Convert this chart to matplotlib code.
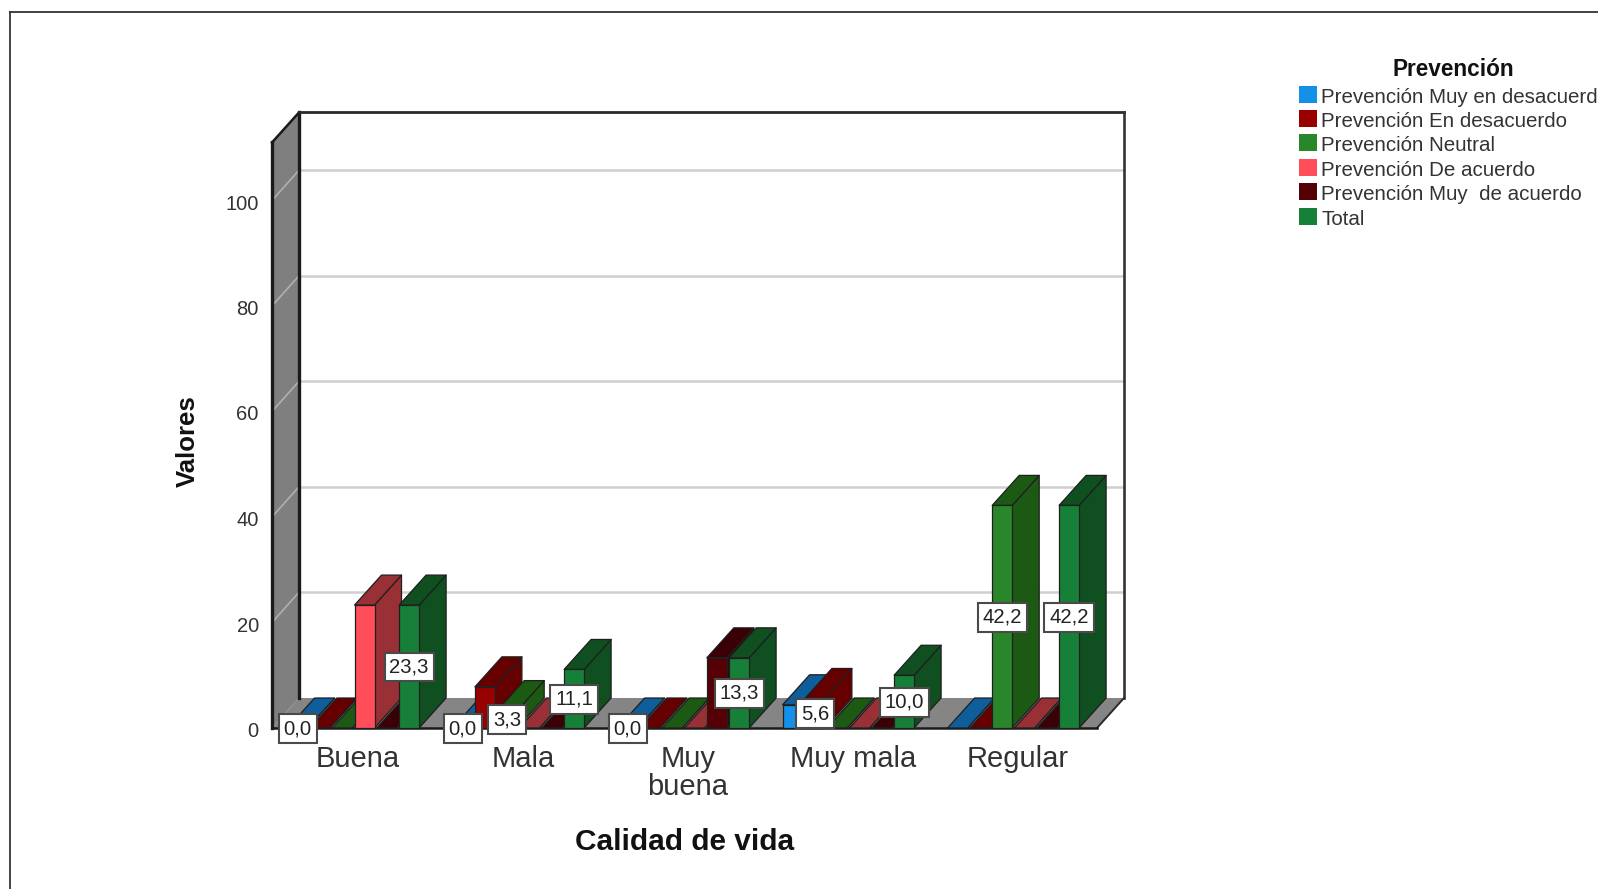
import matplotlib
matplotlib.use("Agg")
import matplotlib.pyplot as plt
from matplotlib.patches import Polygon, Rectangle
from matplotlib.lines import Line2D
from matplotlib.transforms import ScaledTranslation

categories = ["Buena", "Mala", "Muy\nbuena", "Muy mala", "Regular"]
series_names = ["Prevención Muy en desacuerdo", "Prevención En desacuerdo", "Prevención Neutral",
                "Prevención De acuerdo", "Prevención Muy  de acuerdo", "Total"]
muy_desacuerdo = [0.0, 0.0, 0.0, 4.4, 0.0]
desacuerdo = [0.0, 7.8, 0.0, 5.6, 0.0]
neutral = [0.0, 3.3, 0.0, 0.0, 42.2]
de_acuerdo = [23.3, 0.0, 0.0, 0.0, 0.0]
muy_de_acuerdo = [0.0, 0.0, 13.3, 0.0, 0.0]
total = [23.3, 11.1, 13.3, 10.0, 42.2]
series = [muy_desacuerdo, desacuerdo, neutral, de_acuerdo, muy_de_acuerdo, total]

front_colors = ["#1490E8", "#990000", "#2A862A", "#FF4D5A", "#550005", "#178038"]
shade_colors = ["#0D5E9A", "#660000", "#1C5A14", "#993035", "#3A0005", "#0F4F20"]

# (category, series) pairs that keep a value label, the rest are hidden by overlap
labelled = [(0, 0), (0, 5), (1, 0), (1, 2), (1, 5), (2, 0), (2, 5), (3, 1), (3, 5), (4, 2), (4, 5)]

W, H = 1598, 889
DPI = 100
plt.rcParams["font.family"] = ["Liberation Sans", "DejaVu Sans"]

fig = plt.figure(figsize=(W / DPI, H / DPI), dpi=DPI)
# plot area of the front plane, in pixels
left, right, y0, y100 = 272, 1097, 728, 200.5
ax = fig.add_axes([left / W, 1 - y0 / H, (right - left) / W, (y0 - y100) / H])
ax.set_xlim(0, len(categories))
ax.set_ylim(0, 100)
ax.patch.set_visible(False)
for s in ax.spines.values():
    s.set_visible(False)

# depth of the 3d box in data units
dx = 27 / 165
dy = 30 / 5.275
wall_top = 111.0
grid_lift = 0.05
slot = 22.3 / 165
bar_w = 20 / 165
EDGE = "#1f1f1f"


def poly(pts, fc, ec=EDGE, lw=0.9, z=2):
    ax.add_patch(Polygon(pts, closed=True, facecolor=fc, edgecolor=ec, linewidth=lw, zorder=z,
                         clip_on=False, joinstyle="round"))


def line(xs, ys, color, lw, z=1.5):
    ax.add_line(Line2D(xs, ys, color=color, linewidth=lw, zorder=z, clip_on=False))


# left wall and floor
n = len(categories)
poly([(0, 0), (dx, dy), (dx, wall_top + dy), (0, wall_top)], "#7F7F7F", ec="none", lw=0, z=1)
poly([(0, 0), (dx, dy), (n + dx, dy), (n, 0)], "#858585", ec="none", lw=0, z=1)

# grid on the wall and on the back plane
for v in [20, 40, 60, 80, 100]:
    line([0, dx], [v, v + dy + grid_lift], "#B0B0B0", 1.2)
    line([dx, n + dx], [v + dy + grid_lift, v + dy + grid_lift], "#CFCFCF", 1.8)

# box outline
line([0, 0], [0, wall_top], "#1a1a1a", 2.4, z=1.8)
line([dx, dx], [dy, wall_top + dy], "#1a1a1a", 2.4, z=1.8)
line([0, dx], [wall_top, wall_top + dy], "#1a1a1a", 1.8, z=1.8)
line([dx, n + dx], [wall_top + dy, wall_top + dy], "#2a2a2a", 2.0, z=1.8)
line([n + dx, n + dx], [dy, wall_top + dy], "#333333", 1.9, z=1.8)
line([n, n + dx], [0, dy], "#2a2a2a", 1.4, z=1.8)
line([0, n], [0, 0], "#1a1a1a", 1.8, z=1.8)

# bars, left to right so that each one covers the side of the previous one
zo = 2.0
for c in range(n):
    start = c + 0.5 - 3 * slot
    for k, vals in enumerate(series):
        v = vals[c]
        x0 = start + k * slot
        x1 = x0 + bar_w
        zo += 0.01
        poly([(x1, 0), (x1 + dx, dy), (x1 + dx, v + dy), (x1, v)], shade_colors[k], z=zo)
        poly([(x0, v), (x0 + dx, v + dy), (x1 + dx, v + dy), (x1, v)], shade_colors[k], z=zo)
        if v > 0:
            poly([(x0, 0), (x1, 0), (x1, v), (x0, v)], front_colors[k], z=zo)

# value labels in the middle of the bar
for c, k in labelled:
    v = series[k][c]
    x = c + 0.5 - 3 * slot + k * slot + bar_w / 2
    ax.text(x, v / 2 - 0.1, f"{v:.1f}".replace(".", ","), ha="center", va="center", fontsize=14.6, color="#222222",
            zorder=10, clip_on=False,
            bbox=dict(boxstyle="square,pad=0.24", facecolor="white", edgecolor="#4a4a4a", linewidth=1.5))

ax.set_xticks([i + 0.52 for i in range(n)])
ax.set_xticklabels(categories, fontsize=21, color="#333333", linespacing=1.02)
ax.set_yticks([0, 20, 40, 60, 80, 100])
ax.set_yticklabels(["0", "20", "40", "60", "80", "100"], fontsize=14.5, color="#333333")
ax.tick_params(axis="both", length=0)
ax.tick_params(axis="x", pad=12)
ax.tick_params(axis="y", pad=9.5)
# tick text sits a little under the grid level
nudge = ScaledTranslation(0, -1.5 / DPI, fig.dpi_scale_trans)
for lab in ax.get_yticklabels():
    lab.set_transform(lab.get_transform() + nudge)

fig.text(685 / W, 1 - 842 / H, "Calidad de vida", fontsize=21.5, fontweight="bold", ha="center", va="center",
         color="#111111")
fig.text(188 / W, 1 - 441 / H, "Valores", fontsize=18.5, fontweight="bold", rotation=90, ha="center", va="center",
         color="#111111")

# legend by hand, the longest entry runs off the right edge
fig.text(1453 / W, 1 - 70 / H, "Prevención", fontsize=16.3, fontweight="bold", ha="center", va="center",
         color="#111111")
legend_y = [94, 118, 142, 167, 191, 216]
for k, name in enumerate(series_names):
    fig.add_artist(Rectangle((1299 / W, 1 - (legend_y[k] + 8.5) / H), 18 / W, 17 / H, transform=fig.transFigure,
                             facecolor=front_colors[k], edgecolor="none"))
    fig.text(1321 / W, 1 - (legend_y[k] + 3.5) / H, name, fontsize=14.75, ha="left", va="center", color="#333333")

# outer frame of the chart
fig.add_artist(Line2D([10 / W, 10 / W], [0, 1 - 12 / H], color="#444444", linewidth=1.4, transform=fig.transFigure))
fig.add_artist(Line2D([10 / W, 1], [1 - 12 / H, 1 - 12 / H], color="#333333", linewidth=1.3,
                      transform=fig.transFigure))

fig.savefig("out.png", dpi=DPI, facecolor="white")
